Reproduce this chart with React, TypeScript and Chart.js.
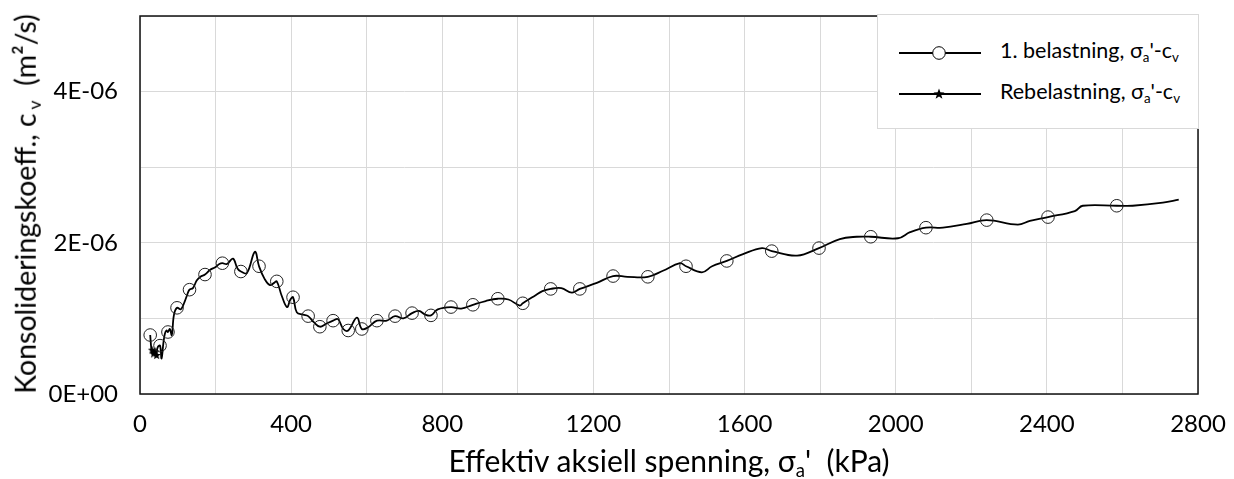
import React, { useEffect, useRef } from "react";
import { Chart, registerables } from "chart.js";

Chart.register(...registerables);

// 1. belastning: effective axial stress (kPa) and consolidation coefficient cv (m²/s)
const stress = [
  27, 30, 33, 38, 42, 47, 53, 57, 62, 66, 70, 74, 79, 84, 90, 98, 108, 118, 124, 131,
  140, 150, 160, 172, 185, 200, 210, 218, 230, 246, 258, 267, 283, 304, 315, 330, 344, 355,
  362, 375, 389, 398, 405, 415, 432, 445, 460, 476, 493, 511, 524, 538, 551, 574, 587, 603,
  627, 653, 675, 697, 720, 738, 755, 770, 788, 823, 850, 881, 915, 947, 975, 1005, 1013,
  1045, 1065, 1087, 1115, 1143, 1164, 1209, 1252, 1290, 1344, 1384, 1429, 1445, 1487, 1514,
  1553, 1596, 1646, 1672, 1739, 1797, 1852, 1897, 1934, 2006, 2038, 2080, 2125, 2188, 2241,
  2323, 2355, 2403, 2474, 2495, 2585, 2627, 2707, 2749,
];
const cv = [
  0.78e-6, 0.6e-6, 0.53e-6, 0.58e-6, 0.52e-6, 0.62e-6, 0.64e-6, 0.47e-6, 0.68e-6, 0.8e-6,
  0.84e-6, 0.82e-6, 0.86e-6, 0.78e-6, 1.05e-6, 1.14e-6, 1.12e-6, 1.22e-6, 1.3e-6, 1.38e-6,
  1.4e-6, 1.5e-6, 1.55e-6, 1.58e-6, 1.64e-6, 1.68e-6, 1.72e-6, 1.73e-6, 1.72e-6, 1.79e-6,
  1.66e-6, 1.62e-6, 1.6e-6, 1.88e-6, 1.69e-6, 1.52e-6, 1.44e-6, 1.47e-6, 1.49e-6, 1.3e-6,
  1.15e-6, 1.25e-6, 1.28e-6, 1.08e-6, 1.05e-6, 1.03e-6, 0.95e-6, 0.89e-6, 0.93e-6, 0.97e-6,
  0.99e-6, 0.86e-6, 0.84e-6, 1.01e-6, 0.86e-6, 0.88e-6, 0.97e-6, 0.97e-6, 1.03e-6, 1.0e-6,
  1.07e-6, 1.1e-6, 1.05e-6, 1.04e-6, 1.12e-6, 1.15e-6, 1.13e-6, 1.18e-6, 1.23e-6, 1.26e-6,
  1.25e-6, 1.17e-6, 1.2e-6, 1.3e-6, 1.36e-6, 1.39e-6, 1.4e-6, 1.34e-6, 1.39e-6, 1.47e-6,
  1.56e-6, 1.55e-6, 1.55e-6, 1.63e-6, 1.73e-6, 1.69e-6, 1.61e-6, 1.69e-6, 1.76e-6, 1.85e-6,
  1.93e-6, 1.89e-6, 1.83e-6, 1.93e-6, 2.05e-6, 2.08e-6, 2.08e-6, 2.06e-6, 2.14e-6, 2.2e-6,
  2.2e-6, 2.25e-6, 2.3e-6, 2.24e-6, 2.29e-6, 2.34e-6, 2.42e-6, 2.49e-6, 2.49e-6, 2.49e-6,
  2.53e-6, 2.57e-6,
];
// stresses at which the circle markers are shown
const markerStress = [
  27, 53, 74, 98, 131, 172, 218, 267, 315, 362, 405, 445, 476, 511, 551, 587, 627, 675, 720,
  770, 823, 881, 947, 1013, 1087, 1164, 1252, 1344, 1445, 1553, 1672, 1797, 1934, 2080, 2241,
  2403, 2585,
];

// Rebelastning
const reloadStress = [32, 36, 40, 44];
const reloadCv = [0.58e-6, 0.53e-6, 0.56e-6, 0.51e-6];

const xTickLabels = ["0", "", "400", "", "800", "", "1200", "", "1600", "", "2000", "", "2400", "", "2800"];
const yTickLabels = ["0E+00", "", "2E-06", "", "4E-06", ""];

const FONT = "Lato, 'Open Sans', sans-serif";

function makeStar(size: number): HTMLCanvasElement {
  const c = document.createElement("canvas");
  c.width = size;
  c.height = size;
  const g = c.getContext("2d")!;
  const cx = size / 2, cy = size / 2, R = size / 2, r = R * 0.42;
  g.beginPath();
  for (let i = 0; i < 10; i++) {
    const rad = i % 2 === 0 ? R : r;
    const a = -Math.PI / 2 + (i * Math.PI) / 5;
    const px = cx + rad * Math.cos(a), py = cy + rad * Math.sin(a);
    if (i === 0) g.moveTo(px, py); else g.lineTo(px, py);
  }
  g.closePath();
  g.fillStyle = "#000";
  g.fill();
  return c;
}

const framePlugin = {
  id: "frame",
  afterDatasetsDraw(chart: any) {
    const { ctx, chartArea } = chart;
    const { left, top, right, bottom } = chartArea;
    ctx.save();
    ctx.strokeStyle = "#111";
    ctx.lineWidth = 1.5;
    ctx.strokeRect(left, top, right - left, bottom - top);
    ctx.restore();
  },
};

const zeroPad = (s: any) => {
  s.paddingLeft = 0;
  s.paddingRight = 0;
  s.paddingTop = 0;
  s.paddingBottom = 0;
};

export default function App() {
  const ref = useRef<HTMLCanvasElement | null>(null);

  useEffect(() => {
    if (!ref.current) return;
    const markers = new Set(markerStress);
    const star = makeStar(9);
    const chart = new Chart(ref.current, {
      type: "line",
      data: {
        datasets: [
          {
            label: "1. belastning",
            data: stress.map((x, i) => ({ x, y: cv[i] })),
            borderColor: "#000",
            borderWidth: 1.8,
            tension: 0.4,
            fill: false,
            pointStyle: "circle",
            pointRadius: (c: any) => (markers.has(c.raw?.x) ? 6.3 : 0),
            pointHoverRadius: 0,
            pointBackgroundColor: "rgba(0,0,0,0)",
            pointBorderColor: "#222",
            pointBorderWidth: 1,
          },
          {
            label: "Rebelastning",
            data: reloadStress.map((x, i) => ({ x, y: reloadCv[i] })),
            borderColor: "#000",
            borderWidth: 1.5,
            tension: 0.4,
            fill: false,
            pointStyle: star as any,
            pointRadius: 4,
          },
        ],
      },
      options: {
        animation: false,
        responsive: true,
        maintainAspectRatio: false,
        layout: { padding: { left: 0, top: 16, right: 36, bottom: 0 } },
        plugins: { legend: { display: false }, tooltip: { enabled: false } },
        scales: {
          x: {
            type: "linear",
            min: 0,
            max: 2800,
            afterFit: (s: any) => { s.height = 85; zeroPad(s); },
            border: { display: false },
            grid: { color: "#d9d9d9", lineWidth: 1, drawTicks: false },
            ticks: {
              stepSize: 200,
              autoSkip: false,
              maxRotation: 0,
              padding: 16,
              color: "#000",
              font: { family: FONT, size: 24 },
              callback: (_v: any, i: number) => xTickLabels[i] ?? "",
            },
          },
          y: {
            type: "linear",
            min: 0,
            max: 5e-6,
            afterFit: (s: any) => { s.width = 140; zeroPad(s); },
            border: { display: false },
            grid: { color: "#d9d9d9", lineWidth: 1, drawTicks: false },
            ticks: {
              stepSize: 1e-6,
              autoSkip: false,
              padding: 22,
              color: "#000",
              font: { family: FONT, size: 24 },
              callback: (v: any) => yTickLabels[Math.round(Number(v) / 1e-6)] ?? "",
            },
          },
        },
      },
      plugins: [framePlugin],
    });
    return () => chart.destroy();
  }, []);

  const subStyle: React.CSSProperties = { fontSize: "0.62em", verticalAlign: "-0.28em", lineHeight: 0 };

  return (
    <div style={{ position: "fixed", left: 0, top: 0, width: 1234, height: 479, background: "#fff", fontFamily: FONT, color: "#000" }}>
      <canvas ref={ref} />
      {/* y axis title */}
      <div
        style={{
          position: "absolute",
          left: 25,
          top: 204,
          transform: "translate(-50%, -50%) rotate(-90deg)",
          whiteSpace: "pre",
          fontSize: 28.5,
          lineHeight: 1,
        }}
      >
        Konsolideringskoeff., c<span style={{ ...subStyle, marginLeft: 4 }}>v</span>  (m²/s)
      </div>
      {/* x axis title */}
      <div
        style={{
          position: "absolute",
          left: 669,
          top: 460,
          transform: "translate(-50%, -50%)",
          whiteSpace: "pre",
          fontSize: 30,
          lineHeight: 1,
        }}
      >
        Effektiv aksiell spenning, σ<span style={subStyle}>a</span>'  (kPa)
      </div>
      {/* legend */}
      <div
        style={{
          position: "absolute",
          left: 877,
          top: 14,
          width: 322,
          height: 115,
          boxSizing: "border-box",
          border: "1px solid #d9d9d9",
          background: "#fff",
        }}
      >
        <svg width={110} height={114} style={{ position: "absolute", left: 0, top: 0 }}>
          <line x1={21} y1={38} x2={103} y2={38} stroke="#000" strokeWidth={1.8} />
          <circle cx={61} cy={38} r={6.3} fill="#fff" stroke="#000" strokeWidth={1} />
          <line x1={21} y1={79} x2={103} y2={79} stroke="#000" strokeWidth={1.8} />
          <polygon
            points="61,73.5 62.4,77.3 66.5,77.4 63.2,79.8 64.4,83.7 61,81.4 57.6,83.7 58.8,79.8 55.5,77.4 59.6,77.3"
            fill="#000"
          />
        </svg>
        <div style={{ position: "absolute", left: 122, top: 38, transform: "translateY(-60%)", whiteSpace: "pre", fontSize: 21.5, lineHeight: 1 }}>
          1. belastning, σ<span style={subStyle}>a</span>'-c<span style={subStyle}>v</span>
        </div>
        <div style={{ position: "absolute", left: 122, top: 79, transform: "translateY(-60%)", whiteSpace: "pre", fontSize: 21.5, lineHeight: 1 }}>
          Rebelastning, σ<span style={subStyle}>a</span>'-c<span style={subStyle}>v</span>
        </div>
      </div>
    </div>
  );
}
